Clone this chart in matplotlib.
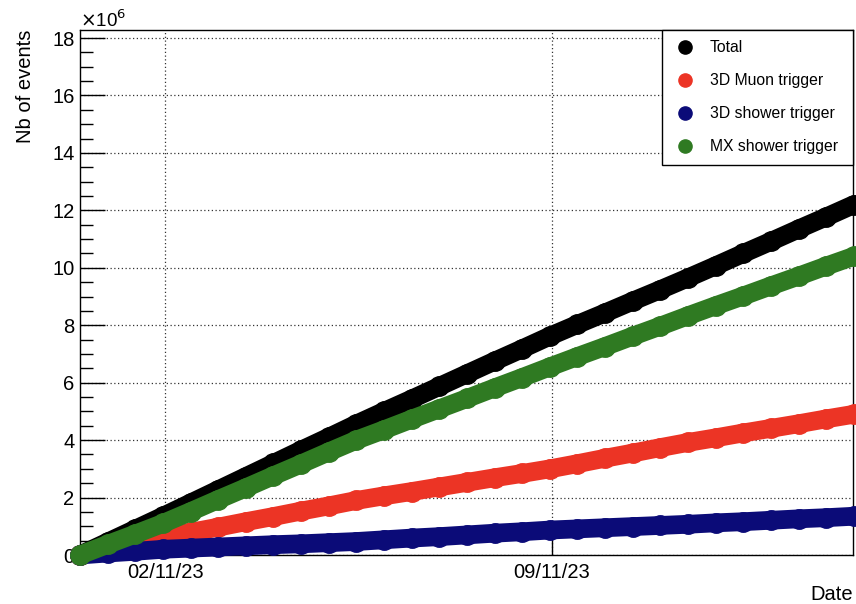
import numpy as np
import pandas as pd
import matplotlib
matplotlib.use('Agg')
import matplotlib.pyplot as plt
import matplotlib.dates as mdates
from matplotlib.lines import Line2D

plt.rcParams['font.family'] = ['Liberation Sans', 'DejaVu Sans']

# sampling times (every 12 h)
times = pd.date_range('2023-10-31 11:00', periods=29, freq='12h')

# cumulative number of events, in units of 1e6
total = [0.00, 0.45, 0.90, 1.35, 1.81, 2.27, 2.73, 3.19, 3.65, 4.10, 4.56, 5.00, 5.43, 5.87, 6.31,
         6.75, 7.18, 7.62, 8.03, 8.43, 8.84, 9.24, 9.65, 10.07, 10.50, 10.92, 11.35, 11.77, 12.20]
muon3d = [0.00, 0.20, 0.40, 0.60, 0.79, 0.97, 1.16, 1.34, 1.53, 1.71, 1.90, 2.06, 2.21, 2.37, 2.53,
          2.69, 2.84, 3.00, 3.18, 3.37, 3.55, 3.74, 3.92, 4.08, 4.25, 4.41, 4.57, 4.74, 4.90]
shower3d = [0.00, 0.07, 0.13, 0.20, 0.24, 0.28, 0.32, 0.36, 0.39, 0.43, 0.47, 0.53, 0.59, 0.64, 0.70,
            0.76, 0.81, 0.87, 0.91, 0.95, 0.99, 1.03, 1.07, 1.12, 1.16, 1.21, 1.26, 1.30, 1.35]
showermx = [0.00, 0.37, 0.73, 1.10, 1.51, 1.93, 2.34, 2.76, 3.17, 3.59, 4.00, 4.36, 4.73, 5.09, 5.45,
            5.82, 6.18, 6.55, 6.91, 7.26, 7.62, 7.97, 8.33, 8.68, 9.02, 9.37, 9.71, 10.06, 10.40]

names = ['Total', '3D Muon trigger', '3D shower trigger', 'MX shower trigger']
colors = ['black', '#ec3425', '#0b0b78', '#2f7a22']
series = [total, muon3d, shower3d, showermx]

fig = plt.figure(figsize=(8.56, 6.04), dpi=100)
ax = fig.add_axes([0.0935, 0.0811, 0.9030, 0.8692])

for vals, c in zip(series, colors):
    ax.plot(times, vals, color=c, lw=13.5, solid_capstyle='round', clip_on=False, zorder=3)
    ax.plot(times, vals, 'o', color=c, ms=14, clip_on=False, zorder=3)

ax.set_xlim(pd.Timestamp('2023-10-31 11:00'), pd.Timestamp('2023-11-14 10:40'))
ax.set_ylim(0, 18.28)

ax.xaxis.set_major_locator(mdates.WeekdayLocator(byweekday=mdates.TH))
ax.xaxis.set_major_formatter(mdates.DateFormatter('%d/%m/%y'))
ax.set_yticks(np.arange(0, 19, 2))
ax.set_yticks(np.arange(0, 18.3, 0.5), minor=True)

ax.tick_params(axis='y', which='major', direction='in', length=18, width=1, labelsize=14.5, pad=4)
ax.tick_params(axis='y', which='minor', direction='in', length=9, width=1)
ax.tick_params(axis='x', which='major', direction='in', length=13, width=1, labelsize=14.5, pad=6)

ax.grid(which='major', linestyle=(0, (1, 2)), linewidth=0.9, color='#333333', zorder=1)
for s in ax.spines.values():
    s.set_linewidth(1)

ax.set_ylabel('Nb of events', fontsize=14.5, loc='top')
ax.yaxis.set_label_coords(-0.058, 1.0)
ax.set_xlabel('Date', fontsize=14.5, loc='right')
ax.xaxis.set_label_coords(1.0, -0.057)
fig.text(0.0935, 0.955, r'$\times$10$^{6}$', fontsize=13.5)

handles = [Line2D([], [], marker='o', ls='none', color=c, ms=9.5) for c in colors]
leg = ax.legend(handles, names, loc='upper left', bbox_to_anchor=(0.753, 0.0, 0.247, 1.0),
                mode='expand', borderaxespad=0, fontsize=11.3, handlelength=1.6,
                handletextpad=0.8, labelspacing=1.15, borderpad=0.65, fancybox=False,
                framealpha=1, edgecolor='black')
leg.get_frame().set_linewidth(1)
leg.set_zorder(5)

fig.savefig('out.png', dpi=100)
